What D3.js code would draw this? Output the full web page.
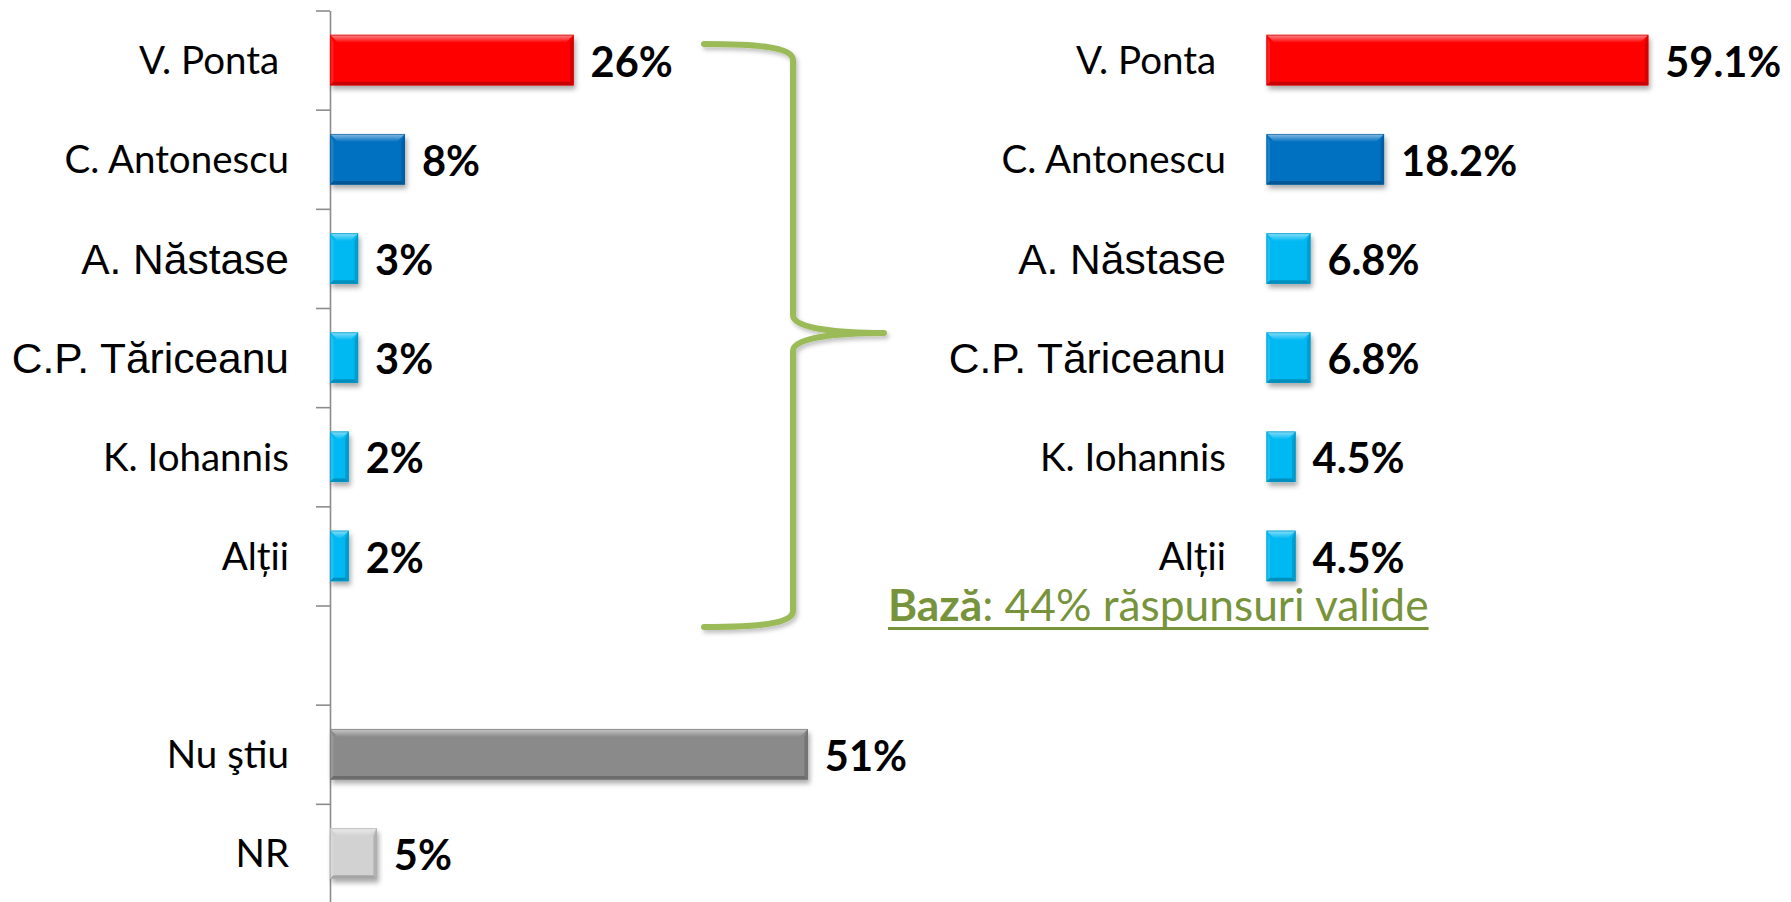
<!DOCTYPE html>
<html>
<head>
<meta charset="utf-8">
<script src="https://cdn.jsdelivr.net/npm/d3@7/dist/d3.min.js"></script>
<style>
  html, body { margin: 0; padding: 0; background: #ffffff; }
  svg { display: block; }
  text { white-space: pre; }
</style>
</head>
<body>
<svg id="chart" width="1791" height="902"></svg>
<script>
// ---------------- data ----------------
const categories = ["V. Ponta ", "C. Antonescu", "A. Năstase", "C.P. Tăriceanu", "K. Iohannis", "Alții", "", "Nu ştiu", "NR"];
const allValues   = [26, 8, 3, 3, 2, 2, null, 51, 5];          // % of all respondents
const validCategories = ["V. Ponta ", "C. Antonescu", "A. Năstase", "C.P. Tăriceanu", "K. Iohannis", "Alții"];
const validValues = [59.1, 18.2, 6.8, 6.8, 4.5, 4.5];           // % of valid answers
const baseBold = "Bază";
const baseRest = ": 44% răspunsuri valide";

// ---------------- styles ----------------
const barColors = ["#FF0000", "#0070C0", "#00B8F2", "#00B8F2", "#00B8F2", "#00B8F2", null, "#8A8A8A", "#D2D2D2"];
const labelFonts = ["Lato", "Lato", "Liberation Sans", "Liberation Sans", "Lato", "Lato", "Lato", "Lato", "Lato"];
const labelSizes = [38.5, 38.5, 42.5, 42.5, 38.5, 38.5, 38.5, 38.5, 38.5];
const green = "#9BBB59", greenText = "#77933C";

const svg = d3.select("#chart");
const defs = svg.append("defs");

const shadow = defs.append("filter").attr("id", "shadow")
  .attr("x", "-20%").attr("y", "-30%").attr("width", "160%").attr("height", "190%");
shadow.append("feDropShadow").attr("dx", 2).attr("dy", 4).attr("stdDeviation", 2.6)
  .attr("flood-color", "#000").attr("flood-opacity", 0.33);

const shadowSoft = defs.append("filter").attr("id", "shadowSoft")
  .attr("x", "-20%").attr("y", "-10%").attr("width", "160%").attr("height", "130%");
shadowSoft.append("feDropShadow").attr("dx", 2).attr("dy", 3).attr("stdDeviation", 2)
  .attr("flood-color", "#000").attr("flood-opacity", 0.25);

// ---------------- scales ----------------
const y = d3.scaleBand().domain(d3.range(categories.length)).range([10.5, 903]).paddingInner(0.49).paddingOuter(0.245);
const yTicks = d3.scaleLinear().domain([0, categories.length]).range([10.5, 903]);
const xL = d3.scaleLinear().domain([0, 100]).range([330, 330 + 937]);
const xR = d3.scaleLinear().domain([0, 100]).range([1266.5, 1266.5 + 646]);

// ---------------- bevel bar ----------------
let gradId = 0;
function bevelBar(g, x0, x1, yTop, h, base) {
  const w = x1 - x0;
  const c = d3.color(base);
  const bt = Math.min(8, w / 2);
  const bs = Math.min(3.5, w / 2);
  const id = "g" + (gradId++);
  const lg = defs.append("linearGradient").attr("id", id).attr("x1", 0).attr("y1", 0).attr("x2", 0).attr("y2", 1);
  lg.append("stop").attr("offset", 0).attr("stop-color", d3.interpolateRgb(base, "#ffffff")(0.55));
  lg.append("stop").attr("offset", 1).attr("stop-color", base);

  const grp = g.append("g");
  grp.append("rect").attr("x", x0).attr("y", yTop).attr("width", w).attr("height", h)
    .attr("fill", base).attr("filter", "url(#shadow)");
  const poly = pts => pts.map(p => p.join(",")).join(" ");
  grp.append("polygon").attr("points", poly([[x0, yTop], [x0 + bs, yTop + bt], [x0 + bs, yTop + h - bs], [x0, yTop + h]]))
    .attr("fill", d3.interpolateRgb(base, "#ffffff")(0.12));
  grp.append("polygon").attr("points", poly([[x1, yTop], [x1, yTop + h], [x1 - bs, yTop + h - bs], [x1 - bs, yTop + bt]]))
    .attr("fill", c.darker(0.45));
  grp.append("polygon").attr("points", poly([[x0, yTop + h], [x1, yTop + h], [x1 - bs, yTop + h - bs], [x0 + bs, yTop + h - bs]]))
    .attr("fill", c.darker(0.7));
  grp.append("polygon").attr("points", poly([[x0, yTop], [x1, yTop], [x1 - bt, yTop + bt], [x0 + bt, yTop + bt]]))
    .attr("fill", `url(#${id})`);
  grp.append("rect").attr("x", x0 + 0.5).attr("y", yTop + 0.5).attr("width", w - 1).attr("height", h - 1)
    .attr("fill", "none").attr("stroke", c.darker(0.6)).attr("stroke-width", 1).attr("opacity", 0.6);
}

// ---------------- left chart ----------------
const left = svg.append("g");
const axis = d3.axisLeft(yTicks).tickValues(d3.range(0, categories.length + 1)).tickFormat("").tickSize(14).tickSizeOuter(0);
const axG = left.append("g").attr("transform", `translate(${xL(0)},0)`).call(axis);
axG.selectAll("path, line").attr("stroke", "#8C8C8C").attr("stroke-width", 1.6);

categories.forEach((cat, i) => {
  if (allValues[i] == null) return;
  const yc = y(i) + y.bandwidth() / 2;
  bevelBar(left, xL(0), xL(allValues[i]), y(i), y.bandwidth(), barColors[i]);
  left.append("text").attr("x", 289).attr("y", yc).attr("dy", "0.36em")
    .attr("text-anchor", "end").attr("font-family", labelFonts[i]).attr("font-size", labelSizes[i])
    .attr("fill", "#000").text(cat);
  left.append("text").attr("x", xL(allValues[i]) + 17).attr("y", yc).attr("dy", "0.40em")
    .attr("font-family", "Lato").attr("font-weight", 700).attr("font-size", 41.5)
    .attr("fill", "#000").text(allValues[i] + "%");
});

// ---------------- right chart ----------------
const right = svg.append("g");
const fmt1 = d3.format(".1f");
validCategories.forEach((cat, i) => {
  const yc = y(i) + y.bandwidth() / 2;
  bevelBar(right, xR(0), xR(validValues[i]), y(i), y.bandwidth(), barColors[i]);
  right.append("text").attr("x", 1226).attr("y", yc).attr("dy", "0.36em")
    .attr("text-anchor", "end").attr("font-family", labelFonts[i]).attr("font-size", labelSizes[i])
    .attr("fill", "#000").text(cat);
  right.append("text").attr("x", xR(validValues[i]) + 17).attr("y", yc).attr("dy", "0.40em")
    .attr("font-family", "Lato").attr("font-weight", 700).attr("font-size", 41.5)
    .attr("fill", "#000").text(fmt1(validValues[i]) + "%");
});

// ---------------- brace ----------------
const bx0 = 704, bx1 = 793, bTip = 884;
const bTop = 44, bMid = 333, bBot = 627;
const p = d3.path();
p.moveTo(bx0, bTop);
p.bezierCurveTo(750, bTop, bx1, bTop + 2, bx1, bTop + 16);
p.lineTo(bx1, bMid - 18);
p.bezierCurveTo(bx1, bMid - 4, 840, bMid, bTip, bMid);
p.bezierCurveTo(840, bMid, bx1, bMid + 4, bx1, bMid + 18);
p.lineTo(bx1, bBot - 16);
p.bezierCurveTo(bx1, bBot - 2, 750, bBot, bx0, bBot);
svg.append("path").attr("d", p.toString()).attr("fill", "none")
  .attr("stroke", green).attr("stroke-width", 6).attr("stroke-linecap", "round").attr("stroke-linejoin", "round")
  .attr("filter", "url(#shadowSoft)");

// ---------------- base note ----------------
const note = svg.append("text").attr("x", 888).attr("y", 621)
  .attr("font-family", "Lato").attr("font-size", 44.3).attr("fill", greenText);
note.append("tspan").attr("font-weight", 700).text(baseBold);
note.append("tspan").text(baseRest);
const nb = note.node().getBBox();
svg.append("line").attr("x1", nb.x).attr("x2", nb.x + nb.width).attr("y1", 628.5).attr("y2", 628.5)
  .attr("stroke", greenText).attr("stroke-width", 3);
</script>
</body>
</html>
